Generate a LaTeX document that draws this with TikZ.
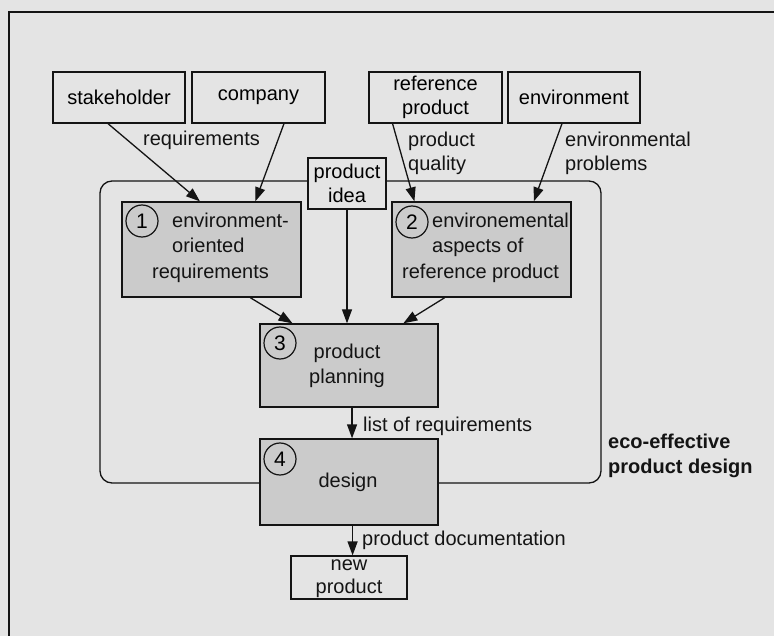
\documentclass[tikz,border=0pt]{standalone}
\usepackage{fontspec}
\setmainfont{Liberation Sans}
\usetikzlibrary{arrows.meta,calc}
\definecolor{bg}{HTML}{E4E4E4}
\definecolor{boxfill}{HTML}{CBCBCB}
\definecolor{ink}{HTML}{141414}
\begin{document}
\begin{tikzpicture}[x=1pt,y=-1pt,
  font=\fontsize{20}{24}\selectfont,
  outbox/.style={draw=ink, line width=1.2pt, fill=bg, inner sep=0pt, align=center},
  stepbox/.style={draw=ink, line width=1.3pt, fill=boxfill, inner sep=0pt},
  numc/.style={draw=ink, circle, line width=1.2pt, minimum size=32pt, inner sep=0pt, font=\fontsize{21}{24}\selectfont},
  txt/.style={inner sep=0pt, align=left, text=ink},
  arr/.style={-{Triangle[length=14pt,width=10pt]}, line width=1.3pt, draw=ink}]
\useasboundingbox (0,0) rectangle (774,636);
\fill[bg] (0,0) rectangle (774,636);
\draw[ink, line width=1.6pt] (9,636) -- (9,12) -- (774,12);
% container
\draw[ink, line width=1.3pt, rounded corners=12pt] (100,181) rectangle (601,483);
% top boxes
\node[outbox, minimum width=132pt, minimum height=51pt] (st) at (119,97.5) {stakeholder};
\node[outbox, minimum width=133pt, minimum height=51pt] (co) at (258.5,97.5) {company};
\node[outbox, minimum width=133pt, minimum height=51pt] (rp) at (435.5,97.5) {reference\\product};
\node[outbox, minimum width=132pt, minimum height=51pt] (en) at (574,97.5) {environment};
\node[outbox, minimum width=78pt, minimum height=51pt] (idea) at (347,183.5) {product\\idea};
% step boxes
\node[stepbox, minimum width=179pt, minimum height=95pt] (b1) at (211.5,249.5) {};
\node[stepbox, minimum width=179pt, minimum height=95pt] (b2) at (481.5,249.5) {};
\node[stepbox, minimum width=178pt, minimum height=83pt] (b3) at (349,365.5) {};
\node[stepbox, minimum width=178pt, minimum height=86pt] (b4) at (349,482) {};
\node[outbox, minimum width=116pt, minimum height=43pt] (np) at (349,577.5) {};
\node[txt, align=center, font=\fontsize{20}{23}\selectfont] (npt) at (349,579) {new\\product};
% texts in step boxes
\node[txt, anchor=west, font=\fontsize{20}{25.5}\selectfont] (b1t) at (172,247.5) {environment-\\oriented\\\hspace*{-20pt}requirements};
\node[txt, anchor=west, font=\fontsize{20}{25.5}\selectfont] (b2t) at (432,247.5) {environemental\\aspects of\\\hspace*{-30pt}reference product};
\node[txt, align=center, font=\fontsize{20}{25}\selectfont] (b3t) at (347,365.5) {product\\planning};
\node[txt] (b4t) at (348,482) {design};
% number circles
\node[numc] (c1) at (142,221) {1};
\node[numc] (c2) at (412,222) {2};
\node[numc] (c3) at (280,343) {3};
\node[numc] (c4) at (280,459) {4};
% labels
\node[txt, anchor=west] (lreq) at (143,140) {requirements};
\node[txt, anchor=west] (lpq) at (408,153) {product\\quality};
\node[txt, anchor=west] (lep) at (565,153) {environmental\\problems};
\node[txt, anchor=west] (llr) at (363,426) {list of requirements};
\node[txt, anchor=west] (lpd) at (362,540) {product documentation};
\node[txt, anchor=west, font=\fontsize{20}{25}\selectfont\bfseries] (leco) at (608,455.5) {eco-effective\\product design};
% arrows
\draw[arr] ($(st.south west)!0.417!(st.south east)$) -- ($(b1.north west)!0.436!(b1.north east)$);
\draw[arr] ($(co.south west)!0.69!(co.south east)$) -- ($(b1.north west)!0.743!(b1.north east)$);
\draw[arr] ($(rp.south west)!0.18!(rp.south east)$) -- ($(b2.north west)!0.128!(b2.north east)$);
\draw[arr] ($(en.south west)!0.41!(en.south east)$) -- ($(b2.north west)!0.79!(b2.north east)$);
\draw[arr] (idea.south) -- (idea.south |- b3.north);
\draw[arr] ($(b1.south west)!0.715!(b1.south east)$) -- ($(b3.north west)!0.185!(b3.north east)$);
\draw[arr] ($(b2.south west)!0.296!(b2.south east)$) -- ($(b3.north west)!0.803!(b3.north east)$);
\coordinate (m34) at ($(b3.south west)!0.517!(b3.south east)$);
\draw[arr] (m34) -- (m34 |- b4.north);
\coordinate (m4n) at ($(b4.south west)!0.52!(b4.south east)$);
\draw[arr] (m4n) -- (m4n |- np.north);
\end{tikzpicture}
\end{document}
